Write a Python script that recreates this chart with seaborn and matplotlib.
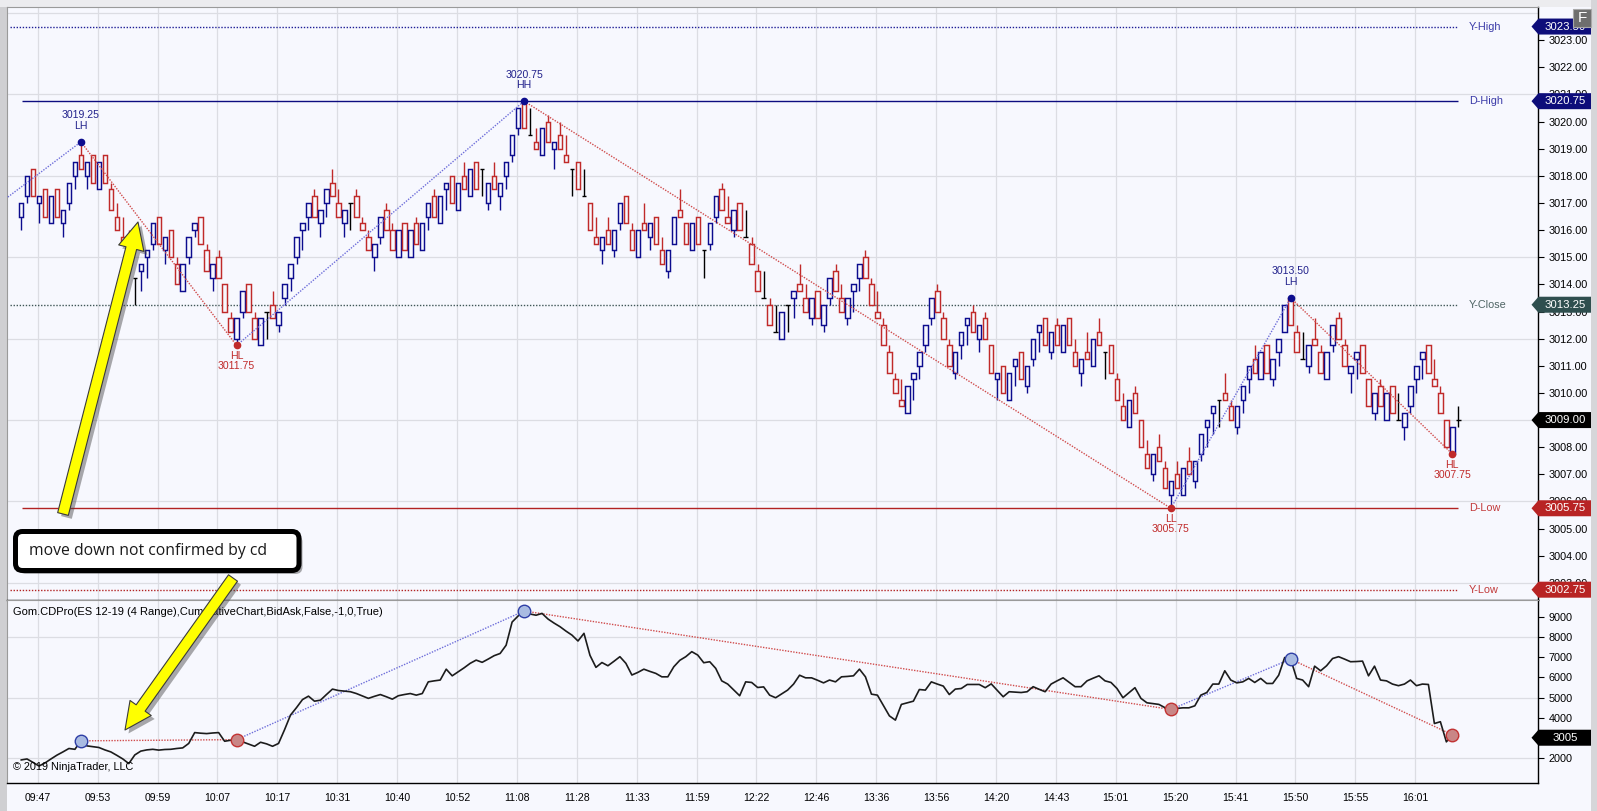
import numpy as np
import matplotlib
matplotlib.use("Agg")
import matplotlib.pyplot as plt
import matplotlib.patches as mpatches
import matplotlib.transforms as mtransforms
import matplotlib.patheffects as pe
import seaborn as sns

# ---------------- data (ES 12-19, 4 range bars) ----------------
bar_open = [
    3016.5, 3017.25, 3018.25, 3017.0, 3017.5, 3016.25, 3017.5, 3016.25, 3017.0, 3018.0,
    3018.75, 3018.0, 3018.75, 3017.5, 3018.75, 3017.5, 3016.5, 3015.75, 3015.25, 3014.25,
    3014.5, 3015.0, 3015.5, 3016.5, 3015.25, 3016.0, 3014.75, 3013.75, 3015.0, 3016.0,
    3016.5, 3015.25, 3014.25, 3015.0, 3014.0, 3012.75, 3012.0, 3013.0, 3014.0, 3012.75,
    3011.75, 3013.0, 3013.25, 3012.5, 3013.5, 3014.25, 3015.0, 3016.0, 3016.5, 3017.25,
    3016.25, 3017.0, 3017.75, 3017.0, 3016.25, 3017.0, 3017.25, 3016.25, 3015.75, 3015.0,
    3015.75, 3016.75, 3016.0, 3015.0, 3016.25, 3015.0, 3016.25, 3015.25, 3016.5, 3017.25,
    3016.25, 3017.5, 3018.0, 3016.75, 3018.0, 3017.25, 3018.5, 3018.25, 3017.0, 3018.0,
    3017.25, 3018.0, 3018.75, 3019.75, 3020.75, 3019.5, 3019.25, 3018.75, 3020.0, 3019.0,
    3019.5, 3018.75, 3018.25, 3018.5, 3017.25, 3017.0, 3015.75, 3015.25, 3016.0, 3015.25,
    3016.25, 3017.25, 3016.0, 3015.0, 3016.25, 3015.75, 3016.5, 3015.25, 3014.5, 3015.5,
    3016.75, 3016.25, 3015.25, 3016.5, 3015.25, 3015.5, 3016.5, 3017.5, 3016.5, 3016.0,
    3017.0, 3015.75, 3015.5, 3014.5, 3013.5, 3013.25, 3012.25, 3012.0, 3013.25, 3013.5,
    3014.0, 3013.5, 3012.75, 3013.75, 3012.5, 3013.5, 3014.5, 3013.5, 3012.75, 3013.75,
    3014.25, 3015.0, 3014.0, 3013.0, 3012.5, 3011.5, 3010.5, 3009.75, 3009.25, 3010.5,
    3011.0, 3011.75, 3012.75, 3013.75, 3012.75, 3011.75, 3010.75, 3011.75, 3012.5, 3013.0,
    3012.0, 3012.75, 3011.75, 3010.5, 3011.0, 3009.75, 3011.0, 3011.5, 3010.25, 3011.25,
    3012.25, 3012.75, 3011.5, 3012.5, 3011.5, 3012.75, 3011.5, 3010.75, 3011.5, 3011.0,
    3012.25, 3011.5, 3011.75, 3010.5, 3009.5, 3008.75, 3010.0, 3009.0, 3007.75, 3007.0,
    3008.0, 3007.25, 3006.25, 3007.0, 3006.25, 3007.5, 3006.75, 3007.75, 3008.75, 3009.25,
    3009.75, 3010.0, 3009.5, 3008.75, 3009.75, 3010.5, 3011.25, 3010.5, 3011.75, 3010.5,
    3011.5, 3012.25, 3013.5, 3012.25, 3011.25, 3011.0, 3012.0, 3011.5, 3010.5, 3011.75,
    3012.75, 3011.75, 3010.75, 3011.25, 3011.75, 3010.5, 3009.25, 3010.25, 3009.0, 3010.25,
    3009.0, 3008.75, 3009.5, 3010.5, 3011.25, 3011.75, 3010.5, 3010.0, 3009.0, 3007.75, 3009.0,
]
bar_high = [
    3017.0, 3018.0, 3018.25, 3017.25, 3017.5, 3017.25, 3017.5, 3016.75, 3017.75, 3018.5,
    3019.25, 3018.5, 3018.75, 3018.5, 3018.75, 3017.75, 3017.0, 3016.5, 3016.0, 3014.25,
    3014.75, 3015.25, 3016.25, 3016.5, 3015.75, 3016.0, 3015.0, 3014.75, 3015.75, 3016.25,
    3016.5, 3015.5, 3014.75, 3015.25, 3014.0, 3013.0, 3012.75, 3013.75, 3014.0, 3013.0,
    3012.75, 3013.0, 3013.75, 3013.0, 3014.0, 3014.75, 3015.75, 3016.25, 3017.0, 3017.5,
    3016.75, 3017.5, 3018.25, 3017.5, 3016.75, 3017.0, 3017.5, 3016.5, 3016.0, 3015.5,
    3016.5, 3017.0, 3016.25, 3016.0, 3016.25, 3016.0, 3016.5, 3016.25, 3017.0, 3017.5,
    3017.25, 3017.75, 3018.0, 3017.75, 3018.5, 3018.25, 3018.5, 3018.25, 3017.75, 3018.5,
    3017.75, 3018.5, 3019.5, 3020.5, 3020.75, 3020.5, 3019.75, 3019.75, 3020.25, 3019.25,
    3020.0, 3019.5, 3018.25, 3018.5, 3018.25, 3017.0, 3016.5, 3015.75, 3016.5, 3016.0,
    3017.0, 3017.25, 3016.25, 3016.0, 3017.0, 3016.25, 3016.5, 3015.75, 3015.25, 3016.5,
    3017.5, 3016.25, 3016.25, 3016.5, 3015.25, 3016.25, 3017.25, 3017.75, 3017.25, 3016.75,
    3017.0, 3016.75, 3015.75, 3014.75, 3014.5, 3013.5, 3013.25, 3013.0, 3013.25, 3013.75,
    3014.75, 3014.0, 3013.5, 3013.75, 3013.25, 3014.25, 3014.75, 3014.0, 3013.5, 3014.0,
    3014.75, 3015.25, 3014.25, 3013.75, 3012.75, 3011.75, 3010.75, 3010.5, 3010.25, 3010.75,
    3011.5, 3012.5, 3013.5, 3014.0, 3013.0, 3012.0, 3011.5, 3012.25, 3012.75, 3013.25,
    3012.5, 3013.0, 3011.75, 3010.75, 3011.0, 3010.75, 3011.25, 3011.5, 3011.0, 3012.0,
    3012.5, 3012.75, 3012.25, 3012.75, 3012.5, 3012.75, 3012.0, 3011.25, 3012.25, 3012.0,
    3012.75, 3011.5, 3011.75, 3010.75, 3010.0, 3009.75, 3010.25, 3009.0, 3008.25, 3007.75,
    3008.5, 3007.5, 3006.75, 3007.5, 3007.25, 3008.0, 3007.5, 3008.5, 3009.0, 3009.5,
    3009.75, 3010.75, 3009.75, 3009.5, 3010.25, 3011.0, 3011.75, 3011.5, 3011.75, 3011.25,
    3012.0, 3013.25, 3013.5, 3012.5, 3012.25, 3011.75, 3012.75, 3011.75, 3011.5, 3012.5,
    3013.0, 3012.0, 3011.0, 3011.5, 3011.75, 3010.5, 3010.0, 3010.5, 3010.0, 3010.25,
    3010.0, 3009.25, 3010.25, 3011.0, 3011.5, 3011.75, 3011.25, 3010.25, 3009.0, 3008.75, 3009.5,
]
bar_low = [
    3016.0, 3017.0, 3017.25, 3016.25, 3016.5, 3016.25, 3016.5, 3015.75, 3016.75, 3017.5,
    3018.25, 3017.5, 3017.75, 3017.5, 3017.75, 3016.75, 3016.0, 3015.5, 3015.0, 3013.25,
    3013.75, 3014.25, 3015.25, 3015.5, 3014.75, 3015.0, 3014.0, 3013.75, 3014.75, 3015.75,
    3015.5, 3014.5, 3013.75, 3014.25, 3013.0, 3012.25, 3011.75, 3012.75, 3013.0, 3012.0,
    3011.75, 3012.0, 3012.75, 3012.25, 3013.25, 3013.75, 3014.75, 3015.25, 3016.0, 3016.5,
    3015.75, 3016.5, 3017.25, 3016.5, 3015.75, 3016.0, 3016.5, 3016.0, 3015.25, 3014.5,
    3015.5, 3016.0, 3015.25, 3015.0, 3015.25, 3015.0, 3015.5, 3015.25, 3016.0, 3016.5,
    3016.25, 3016.75, 3017.0, 3016.75, 3017.5, 3017.25, 3017.5, 3017.25, 3016.75, 3017.5,
    3016.75, 3017.5, 3018.5, 3019.5, 3019.75, 3019.5, 3019.0, 3018.75, 3019.25, 3018.25,
    3019.0, 3018.5, 3017.25, 3017.5, 3017.25, 3016.0, 3015.5, 3014.75, 3015.5, 3015.0,
    3016.0, 3016.25, 3015.25, 3015.0, 3016.0, 3015.25, 3015.5, 3014.75, 3014.25, 3015.5,
    3016.5, 3015.5, 3015.25, 3015.5, 3014.25, 3015.25, 3016.25, 3016.75, 3016.25, 3015.75,
    3016.0, 3015.75, 3014.75, 3013.75, 3013.5, 3012.5, 3012.25, 3012.0, 3012.25, 3012.75,
    3013.75, 3013.0, 3012.5, 3012.75, 3012.25, 3013.25, 3013.75, 3013.0, 3012.5, 3013.0,
    3013.75, 3014.25, 3013.25, 3012.75, 3011.75, 3010.75, 3010.0, 3009.5, 3009.25, 3009.75,
    3010.5, 3011.5, 3012.5, 3013.0, 3012.0, 3011.0, 3010.5, 3011.25, 3011.75, 3012.25,
    3011.5, 3012.0, 3010.75, 3009.75, 3010.0, 3009.75, 3010.25, 3010.5, 3010.0, 3011.0,
    3011.5, 3011.75, 3011.25, 3011.75, 3011.5, 3011.75, 3011.0, 3010.25, 3011.25, 3011.0,
    3011.75, 3010.5, 3010.75, 3009.75, 3009.0, 3008.75, 3009.25, 3008.0, 3007.25, 3006.75,
    3007.5, 3006.5, 3005.75, 3006.5, 3006.25, 3007.0, 3006.5, 3007.5, 3008.0, 3008.5,
    3008.75, 3009.75, 3009.0, 3008.5, 3009.25, 3010.0, 3010.75, 3010.5, 3010.75, 3010.25,
    3011.0, 3012.25, 3012.5, 3011.5, 3011.25, 3010.75, 3011.75, 3010.75, 3010.5, 3011.5,
    3012.0, 3011.0, 3010.0, 3010.5, 3010.75, 3009.5, 3009.0, 3009.5, 3009.0, 3009.25,
    3009.0, 3008.25, 3009.25, 3010.0, 3010.5, 3010.75, 3010.25, 3009.25, 3008.0, 3007.75, 3008.75,
]
bar_close = [
    3017.0, 3018.0, 3017.25, 3017.25, 3016.5, 3017.25, 3016.5, 3016.75, 3017.75, 3018.5,
    3018.25, 3018.5, 3017.75, 3018.5, 3017.75, 3016.75, 3016.0, 3015.5, 3015.0, 3014.25,
    3014.75, 3015.25, 3016.25, 3015.5, 3015.75, 3015.0, 3014.0, 3014.75, 3015.75, 3016.25,
    3015.5, 3014.5, 3014.75, 3014.25, 3013.0, 3012.25, 3012.75, 3013.75, 3013.0, 3012.0,
    3012.75, 3013.0, 3012.75, 3013.0, 3014.0, 3014.75, 3015.75, 3016.25, 3017.0, 3016.5,
    3016.75, 3017.5, 3017.25, 3016.5, 3016.75, 3017.0, 3016.5, 3016.0, 3015.25, 3015.5,
    3016.5, 3016.0, 3015.25, 3016.0, 3015.25, 3016.0, 3015.5, 3016.25, 3017.0, 3016.5,
    3017.25, 3017.75, 3017.0, 3017.75, 3017.5, 3018.25, 3017.5, 3018.25, 3017.75, 3017.5,
    3017.75, 3018.5, 3019.5, 3020.5, 3019.75, 3019.5, 3019.0, 3019.75, 3019.25, 3019.25,
    3019.0, 3018.5, 3018.25, 3017.5, 3017.25, 3016.0, 3015.5, 3015.75, 3015.5, 3016.0,
    3017.0, 3016.25, 3015.25, 3016.0, 3016.0, 3016.25, 3015.5, 3014.75, 3015.25, 3016.5,
    3016.5, 3015.5, 3016.25, 3015.5, 3015.25, 3016.25, 3017.25, 3016.75, 3016.25, 3016.75,
    3016.0, 3015.75, 3014.75, 3013.75, 3013.5, 3012.5, 3012.25, 3013.0, 3013.25, 3013.75,
    3013.75, 3013.0, 3013.5, 3012.75, 3013.25, 3014.25, 3013.75, 3013.0, 3013.5, 3014.0,
    3014.75, 3014.25, 3013.25, 3012.75, 3011.75, 3010.75, 3010.0, 3009.5, 3010.25, 3010.75,
    3011.5, 3012.5, 3013.5, 3013.0, 3012.0, 3011.0, 3011.5, 3012.25, 3012.75, 3012.25,
    3012.5, 3012.0, 3010.75, 3010.75, 3010.0, 3010.75, 3011.25, 3010.5, 3011.0, 3012.0,
    3012.5, 3011.75, 3012.25, 3011.75, 3012.5, 3011.75, 3011.0, 3011.25, 3011.25, 3012.0,
    3011.75, 3011.5, 3010.75, 3009.75, 3009.0, 3009.75, 3009.25, 3008.0, 3007.25, 3007.75,
    3007.5, 3006.5, 3006.75, 3006.5, 3007.25, 3007.0, 3007.5, 3008.5, 3009.0, 3009.5,
    3009.75, 3009.75, 3009.0, 3009.5, 3010.25, 3011.0, 3010.75, 3011.5, 3010.75, 3011.25,
    3012.0, 3013.25, 3012.5, 3011.5, 3011.25, 3011.75, 3011.75, 3010.75, 3011.5, 3012.5,
    3012.0, 3011.0, 3011.0, 3011.5, 3010.75, 3009.5, 3010.0, 3009.5, 3010.0, 3009.25,
    3009.0, 3009.25, 3010.25, 3011.0, 3011.5, 3010.75, 3010.25, 3009.25, 3008.0, 3008.75, 3009.0,
]
cum_delta = [
    1900, 1950, 1780, 1600, 1750, 1950, 2140, 2300, 2470, 2430,
    2850, 2600, 2560, 2520, 2400, 2300, 2130, 1950, 1720, 2150,
    2340, 2400, 2430, 2390, 2420, 2430, 2470, 2500, 2720, 3260,
    3230, 3210, 3240, 3260, 2830, 2880, 2910, 2800, 2690, 2580,
    2780, 2700, 2580, 2720, 3400, 4130, 4500, 4900, 5070, 4820,
    4870, 5150, 5420, 5350, 5320, 5290, 5200, 5080, 4960, 5060,
    5150, 5040, 4920, 5090, 5150, 5200, 5120, 5200, 5780, 5830,
    5870, 6410, 6080, 6280, 6480, 6700, 6860, 6750, 6910, 7080,
    7190, 7600, 8750, 9050, 9300, 9150, 9090, 9180, 8900, 8700,
    8520, 8300, 8100, 7810, 8190, 7100, 6500, 6740, 6580, 6800,
    7030, 6700, 6120, 6250, 6410, 6300, 6200, 6030, 6030, 6530,
    6850, 7030, 7280, 7110, 6730, 6780, 6450, 5830, 5670, 5380,
    5090, 5780, 5750, 5500, 5530, 5120, 4990, 5180, 5370, 5670,
    6110, 5980, 5980, 5860, 5730, 5870, 5780, 6030, 6050, 6080,
    6410, 6030, 5170, 5120, 4600, 4090, 3880, 4660, 4740, 4820,
    5400, 5370, 5780, 5670, 5570, 5150, 5420, 5450, 5650, 5650,
    5650, 5490, 5680, 5360, 5040, 5290, 5270, 5250, 5290, 5540,
    5410, 5290, 5670, 5830, 5980, 5760, 5540, 5540, 5830, 5960,
    6080, 5830, 5750, 5450, 4990, 5240, 5490, 4960, 4740, 4700,
    4660, 4500, 4410, 4460, 4490, 4490, 4590, 5120, 5250, 5670,
    5670, 6330, 5870, 5730, 5780, 5950, 5750, 5950, 5700, 5700,
    6110, 6990, 6910, 5950, 5870, 5540, 6560, 6330, 6580, 6940,
    7030, 6910, 6780, 6790, 6810, 6080, 6560, 5870, 5830, 5670,
    5590, 5670, 5870, 5590, 5670, 5650, 3710, 3800, 2800, 3150, 3050,
]
time_labels = ['09:47', '09:53', '09:59', '10:07', '10:17', '10:31', '10:40', '10:52',
               '11:08', '11:28', '11:33', '11:59', '12:22', '12:46', '13:36', '13:56',
               '14:20', '14:43', '15:01', '15:20', '15:41', '15:50', '15:55', '16:01']

# swing points (bar index, price, tag); first one is off the left edge
swing_idx = [-5, 10, 36, 84, 192, 212, 239]
swing_price = [3016.75, 3019.25, 3011.75, 3020.75, 3005.75, 3013.50, 3007.75]
swing_tag = ['', 'LH', 'HL', 'HH', 'LL', 'LH', 'HL']

level_names = ['Y-High', 'D-High', 'Y-Close', 'D-Low', 'Y-Low']
level_prices = [3023.50, 3020.75, 3013.25, 3005.75, 3002.75]
last_price = 3009.00
last_delta = 3005

price_ticks = [3003, 3004, 3005, 3006, 3007, 3008, 3010, 3011, 3012, 3013, 3014, 3015,
               3016, 3017, 3018, 3019, 3020, 3021, 3022, 3023]
delta_ticks = [2000, 4000, 5000, 6000, 7000, 8000, 9000]

# ---------------- styling ----------------
W, H = 1597, 811
BG = '#F7F8FE'
GRID = '#DCDDE3'
UP = '#0C0C8E'
DN = '#C02A2A'
NAVY_TXT = '#22228C'
RED_TXT = '#C02A2A'
ZZ_UP = '#6E6EDA'
ZZ_DN = '#D04C4C'
level_style = {
    'Y-High':  dict(ls=(0, (1, 1.2)), color='#1E1E96', start=-1.8, txt='#3A3AA8', badge='#0D0D7A'),
    'D-High':  dict(ls='-', color='#0D0D80', start=0.2, txt='#3A3AA8', badge='#0D0D7A'),
    'Y-Close': dict(ls=(0, (1, 1.2)), color='#3F5656', start=-1.8, txt='#4E6464', badge='#2F4F4F'),
    'D-Low':   dict(ls='-', color='#B22222', start=0.2, txt='#C23A3A', badge='#B82424'),
    'Y-Low':   dict(ls=(0, (1, 1.2)), color='#B22222', start=-1.8, txt='#C23A3A', badge='#B82424'),
}

sns.set_style("white")
plt.rcParams['font.family'] = ['Liberation Sans', 'DejaVu Sans']

fig = plt.figure(figsize=(W / 100, H / 100), dpi=100, facecolor=BG)
ax_p = fig.add_axes([7 / W, 1 - 600 / H, (1538 - 7) / W, (600 - 7) / H])
ax_c = fig.add_axes([7 / W, 1 - 783 / H, (1538 - 7) / W, (783 - 600) / H])
pix = mtransforms.Affine2D().scale(1 / W, -1 / H).translate(0, 1) + fig.transFigure

# frame strips
fig.add_artist(mpatches.Rectangle((0, 0), 7, H, transform=pix, fc='#CFCFD2', ec='none', zorder=-1))
fig.add_artist(mpatches.Rectangle((0, 0), W, 7, transform=pix, fc='#ECECEF', ec='none', zorder=-1))
fig.add_artist(mpatches.Rectangle((1591, 0), 6, H, transform=pix, fc='#D6D6D9', ec='none', zorder=-1))

xlim = (-2.34, 253.3)
tick_pos = 2.8 + 10 * np.arange(len(time_labels))

for a in (ax_p, ax_c):
    a.set_facecolor(BG)
    a.set_xlim(*xlim)
    for t in tick_pos:
        a.axvline(t, color=GRID, lw=0.9, zorder=0)
    for s in ('left', 'top'):
        a.spines[s].set_color('#9A9A9A')
        a.spines[s].set_linewidth(0.8)
    for s in ('right', 'bottom'):
        a.spines[s].set_color('black')
        a.spines[s].set_linewidth(1.0)
    a.yaxis.tick_right()
    a.tick_params(axis='y', which='major', right=True, left=False, labelright=True,
                  labelleft=False, length=4.5, width=0.8, pad=3, labelsize=7.8, colors='black')

ax_p.set_ylim(3002.37, 3024.22)
ax_c.set_ylim(756, 9846)
for g in np.arange(3003, 3025, 3):
    ax_p.axhline(g, color=GRID, lw=0.9, zorder=0)
for g in (2000, 5000, 8000):
    ax_c.axhline(g, color=GRID, lw=0.9, zorder=0)

ax_p.set_yticks(price_ticks)
ax_p.set_yticklabels([f"{v:.2f}" for v in price_ticks])
ax_c.set_yticks(delta_ticks)
ax_c.set_yticklabels([str(v) for v in delta_ticks])
ax_p.set_xticks([])
ax_c.set_xticks(tick_pos)
ax_c.set_xticklabels(time_labels)
ax_c.tick_params(axis='x', length=5, width=0.8, pad=2, labelsize=7.6, colors='black')

# ---------------- candles ----------------
o = np.array(bar_open)
hi = np.array(bar_high)
lo = np.array(bar_low)
c = np.array(bar_close)
x = np.arange(len(o))
doji = c == o
colors = np.where(c > o, UP, np.where(c < o, DN, 'black'))
body_w = 0.74
ax_p.vlines(x, lo, hi, colors=colors, lw=1.0, zorder=3)
ax_p.bar(x[~doji], np.abs(c - o)[~doji], bottom=np.minimum(o, c)[~doji], width=body_w,
         facecolor=BG, edgecolor=colors[~doji], linewidth=1.05, zorder=4)
ax_p.hlines(c[doji], x[doji] - body_w / 2, x[doji] + body_w / 2, colors='black', lw=1.0, zorder=4)

# ---------------- level lines ----------------
lbl_tr = mtransforms.blended_transform_factory(ax_p.transAxes, ax_p.transData)
for name, price in zip(level_names, level_prices):
    st = level_style[name]
    ax_p.hlines(price, st['start'], len(o) - 1, colors=st['color'], linestyles=[st['ls']],
                lw=1.0, zorder=2)
    ax_p.text((1469 - 7) / (1538 - 7), price, name, transform=lbl_tr, color=st['txt'],
              fontsize=7.8, va='center', ha='left')

# ---------------- swings / zigzag ----------------
cd = np.array(cum_delta)
for i, (idx, p, tag) in enumerate(zip(swing_idx, swing_price, swing_tag)):
    if i > 0:
        pi, pp = swing_idx[i - 1], swing_price[i - 1]
        col = ZZ_UP if p > pp else ZZ_DN
        ax_p.plot([pi, idx], [pp, p], ls=(0, (1, 1)), color=col, lw=1.0, zorder=5)
        if swing_tag[i - 1]:
            ax_c.plot([pi, idx], [cd[pi], cd[idx]], ls=(0, (1, 1)), color=col, lw=1.0, zorder=2)
    if not tag:
        continue
    is_high = tag.endswith('H')
    ax_p.plot(idx, p, 'o', ms=4.5, color=UP if is_high else DN, zorder=6)
    if is_high:
        ax_p.annotate(f"{p:.2f}\n{tag}", (idx, p), xytext=(0, 8), textcoords='offset points',
                      ha='center', va='bottom', fontsize=7.6, color=NAVY_TXT, linespacing=1.05)
    else:
        ax_p.annotate(f"{tag}\n{p:.2f}", (idx, p), xytext=(0, -4), textcoords='offset points',
                      ha='center', va='top', fontsize=7.6, color=RED_TXT, linespacing=1.05)

# ---------------- cumulative delta ----------------
sns.lineplot(x=x, y=cd, ax=ax_c, color='#1C1C1C', linewidth=1.2, zorder=3)
for idx, tag in zip(swing_idx, swing_tag):
    if not tag:
        continue
    is_high = tag.endswith('H')
    ax_c.plot(idx, cd[idx], 'o', ms=9,
              mfc='#A9BBE2' if is_high else '#C98686',
              mec='#2E3EA6' if is_high else '#C23434', mew=1.0, zorder=5)

fig.text(13 / W, 1 - 612 / H, "Gom.CDPro(ES 12-19 (4 Range),CumulativeChart,BidAsk,False,-1,0,True)",
         fontsize=8, va='center', ha='left', color='black', zorder=6)
fig.text(13 / W, 1 - 767 / H, "\u00a9 2019 NinjaTrader, LLC", fontsize=7.8, va='center',
         ha='left', color='black', zorder=6)


# ---------------- right-axis badges ----------------
def badge(ax, value, text, color):
    yc = H - ax.transData.transform((0, value))[1]
    pts = [(1531.5, yc), (1538.5, yc - 8), (1591, yc - 8), (1591, yc + 8), (1538.5, yc + 8)]
    fig.add_artist(mpatches.Polygon(pts, closed=True, transform=pix, fc=color, ec='none', zorder=10))
    fig.text(1565 / W, 1 - yc / H, text, color='white', fontsize=8.2, ha='center', va='center', zorder=11)


for name, price in zip(level_names, level_prices):
    badge(ax_p, price, f"{price:.2f}", level_style[name]['badge'])
badge(ax_p, last_price, f"{last_price:.2f}", 'black')
badge(ax_c, last_delta, str(last_delta), 'black')

fig.add_artist(mpatches.Rectangle((1573, 9), 18, 18, transform=pix, fc='#6E6E6E', ec='#A8A8A8',
                                  lw=0.8, zorder=12))
fig.text(1582 / W, 1 - 18 / H, "F", color='white', fontsize=11, ha='center', va='center', zorder=13)

# ---------------- drawn annotations ----------------
shadow = [pe.SimplePatchShadow(offset=(2.5, -2.5), shadow_rgbFace='#444444', alpha=0.45), pe.Normal()]
for (x0, y0, x1, y1) in [(63, 514, 138, 222), (233, 578, 125, 730)]:
    arr = mpatches.FancyArrow(x0, y0, x1 - x0, y1 - y0, width=11, head_width=26, head_length=27,
                              length_includes_head=True, transform=pix, fc='#FFFF00',
                              ec='#3A3A3A', lw=0.8, joinstyle='round', zorder=8)
    arr.set_path_effects(shadow)
    fig.add_artist(arr)

box = mpatches.FancyBboxPatch((15.5, 531.5), 283.5, 39, boxstyle="round,pad=0,rounding_size=7",
                              transform=pix, fc='white', ec='black', lw=3.6, zorder=8)
box.set_path_effects(shadow)
fig.add_artist(box)
fig.text(29 / W, 1 - 551 / H, "move down not confirmed by cd", fontsize=11.3,
         family=['Open Sans', 'DejaVu Sans'], color='#1A1A1A', va='center', ha='left', zorder=9)

fig.savefig('out.png', dpi=100, facecolor=fig.get_facecolor())
